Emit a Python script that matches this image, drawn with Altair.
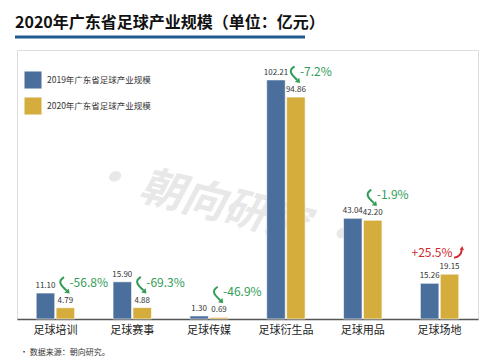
import altair as alt
import pandas as pd

categories = ["足球培训", "足球赛事", "足球传媒", "足球衍生品", "足球用品", "足球场地"]
values_2019 = [11.10, 15.90, 1.30, 102.21, 43.04, 15.26]
values_2020 = [4.79, 4.88, 0.69, 94.86, 42.20, 19.15]
changes = ["-56.8%", "-69.3%", "-46.9%", "-7.2%", "-1.9%", "+25.5%"]
series_names = ["2019年广东省足球产业规模", "2020年广东省足球产业规模"]
title_text = "2020年广东省足球产业规模（单位：亿元）"
source_text = "· 数据来源：朝向研究。"
watermark_text = "•  朝向研究  •"

FONT = "Noto Sans CJK SC"
BLUE = "#4b6f9c"
GOLD = "#d5ad3d"
GREEN = "#2f9d55"
RED = "#d0292f"

# arrow glyph shapes (unit-square SVG paths)
DOWN_CURVE = "M -0.05 -1 C -0.75 -0.55 -0.55 -0.15 0.25 0.55"
DOWN_HEAD = "M 0 0.8 L 0.6 0.9 L 0.5 0.3 Z"
UP_CURVE = "M -0.9 0.9 C -0.2 0.8 0.26 0.25 0.35 -0.35"
UP_HEAD = "M 0 -0.4 L 0.45 -1 L 0.7 -0.3 Z"

rows = []
for c, a, b in zip(categories, values_2019, values_2020):
    rows.append({"cat": c, "series": series_names[0], "value": a, "label": f"{a:.2f}"})
    rows.append({"cat": c, "series": series_names[1], "value": b, "label": f"{b:.2f}"})
bars_df = pd.DataFrame(rows)

chg_df = pd.DataFrame({
    "cat": categories,
    "v2019": values_2019,
    "v2020": values_2020,
    "change": changes,
})
chg_df["up"] = chg_df["change"].str.startswith("+")

yscale = alt.Scale(domain=[0, 115])
x_enc = alt.X(
    "cat:N", sort=categories,
    scale=alt.Scale(paddingInner=0.5, paddingOuter=0.25),
    axis=alt.Axis(title=None, labelAngle=0, ticks=False, domainColor="#555555",
                  domainWidth=1.5, labelFont=FONT, labelFontSize=11,
                  labelColor="#222222", labelPadding=5, grid=False),
)
x_plain = alt.X("cat:N", sort=categories)
xoff = alt.XOffset("series:N", sort=series_names, scale=alt.Scale(paddingInner=0.07))
color = alt.Color(
    "series:N", sort=series_names,
    scale=alt.Scale(domain=series_names, range=[BLUE, GOLD]),
    legend=alt.Legend(title=None, orient="none", legendX=7, legendY=21,
                      symbolType="square", symbolSize=290, symbolStrokeWidth=0,
                      labelFont=FONT, labelFontSize=8.5, labelColor="#333333",
                      rowPadding=8, labelOffset=5),
)

base = alt.Chart(bars_df)

watermark = alt.Chart(pd.DataFrame({"t": [watermark_text]})).mark_text(
    font=FONT, fontSize=43, fontWeight="bold", fontStyle="italic", color="#e8e8e8",
    angle=14, align="center", baseline="middle",
).encode(text="t:N", x=alt.value(207), y=alt.value(157))

bars = base.mark_bar(stroke="white", strokeWidth=0.6).encode(
    x=x_enc, xOffset=xoff, y=alt.Y("value:Q", scale=yscale, axis=None), color=color,
)

vlabels = base.mark_text(font=FONT, fontSize=8, color="#333333", dy=-7,
                         baseline="middle").encode(
    x=x_plain, xOffset=xoff, y=alt.Y("value:Q", scale=yscale), text="label:N",
)

chg = alt.Chart(chg_df)
down = chg.transform_filter("!datum.up")
up = chg.transform_filter("datum.up")
y20 = alt.Y("v2020:Q", scale=yscale)

down_text = down.mark_text(
    font=FONT, fontSize=12, color=GREEN, align="left", baseline="middle", dx=14, dy=-25,
).encode(x=x_plain, y=y20, text="change:N")
down_curve = down.mark_point(
    shape=DOWN_CURVE, size=300, filled=False, strokeWidth=2, color=GREEN, opacity=1,
    xOffset=9, yOffset=-22,
).encode(x=x_plain, y=y20)
down_head = down.mark_point(
    shape=DOWN_HEAD, size=300, filled=True, strokeWidth=0, color=GREEN, opacity=1,
    xOffset=9, yOffset=-22,
).encode(x=x_plain, y=y20)

up_text = up.mark_text(
    font=FONT, fontSize=12, color=RED, align="right", baseline="middle", dx=13, dy=-21,
).encode(x=x_plain, y=y20, text="change:N")
up_curve = up.mark_point(
    shape=UP_CURVE, size=150, filled=False, strokeWidth=2, color=RED, opacity=1,
    xOffset=20, yOffset=-22,
).encode(x=x_plain, y=y20)
up_head = up.mark_point(
    shape=UP_HEAD, size=150, filled=True, strokeWidth=0, color=RED, opacity=1,
    xOffset=20, yOffset=-22,
).encode(x=x_plain, y=y20)

title = alt.Chart(pd.DataFrame({"t": [title_text]})).mark_text(
    font=FONT, fontSize=16, fontWeight="bold", color="#111111", align="left",
    baseline="middle",
).encode(text="t:N", x=alt.value(-2), y=alt.value(-27))
underline = alt.Chart(pd.DataFrame({"t": [0]})).mark_rule(
    color="#1f5a8c", strokeWidth=3,
).encode(x=alt.value(-2), x2=alt.value(288), y=alt.value(-13))
source = alt.Chart(pd.DataFrame({"t": [source_text]})).mark_text(
    font=FONT, fontSize=8, color="#333333", align="left", baseline="middle",
).encode(text="t:N", x=alt.value(3), y=alt.value(303))

chart = alt.layer(
    watermark, bars, vlabels, down_curve, down_head, down_text,
    up_text, up_curve, up_head, title, underline, source,
).properties(
    width=461, height=269,
    autosize=alt.AutoSizeParams(type="none"),
    padding={"left": 9, "top": 42, "right": 4, "bottom": 45},
).configure_view(stroke=None).configure(background="white")

chart.save("out.html", embed_options={"renderer": "svg", "actions": False})
